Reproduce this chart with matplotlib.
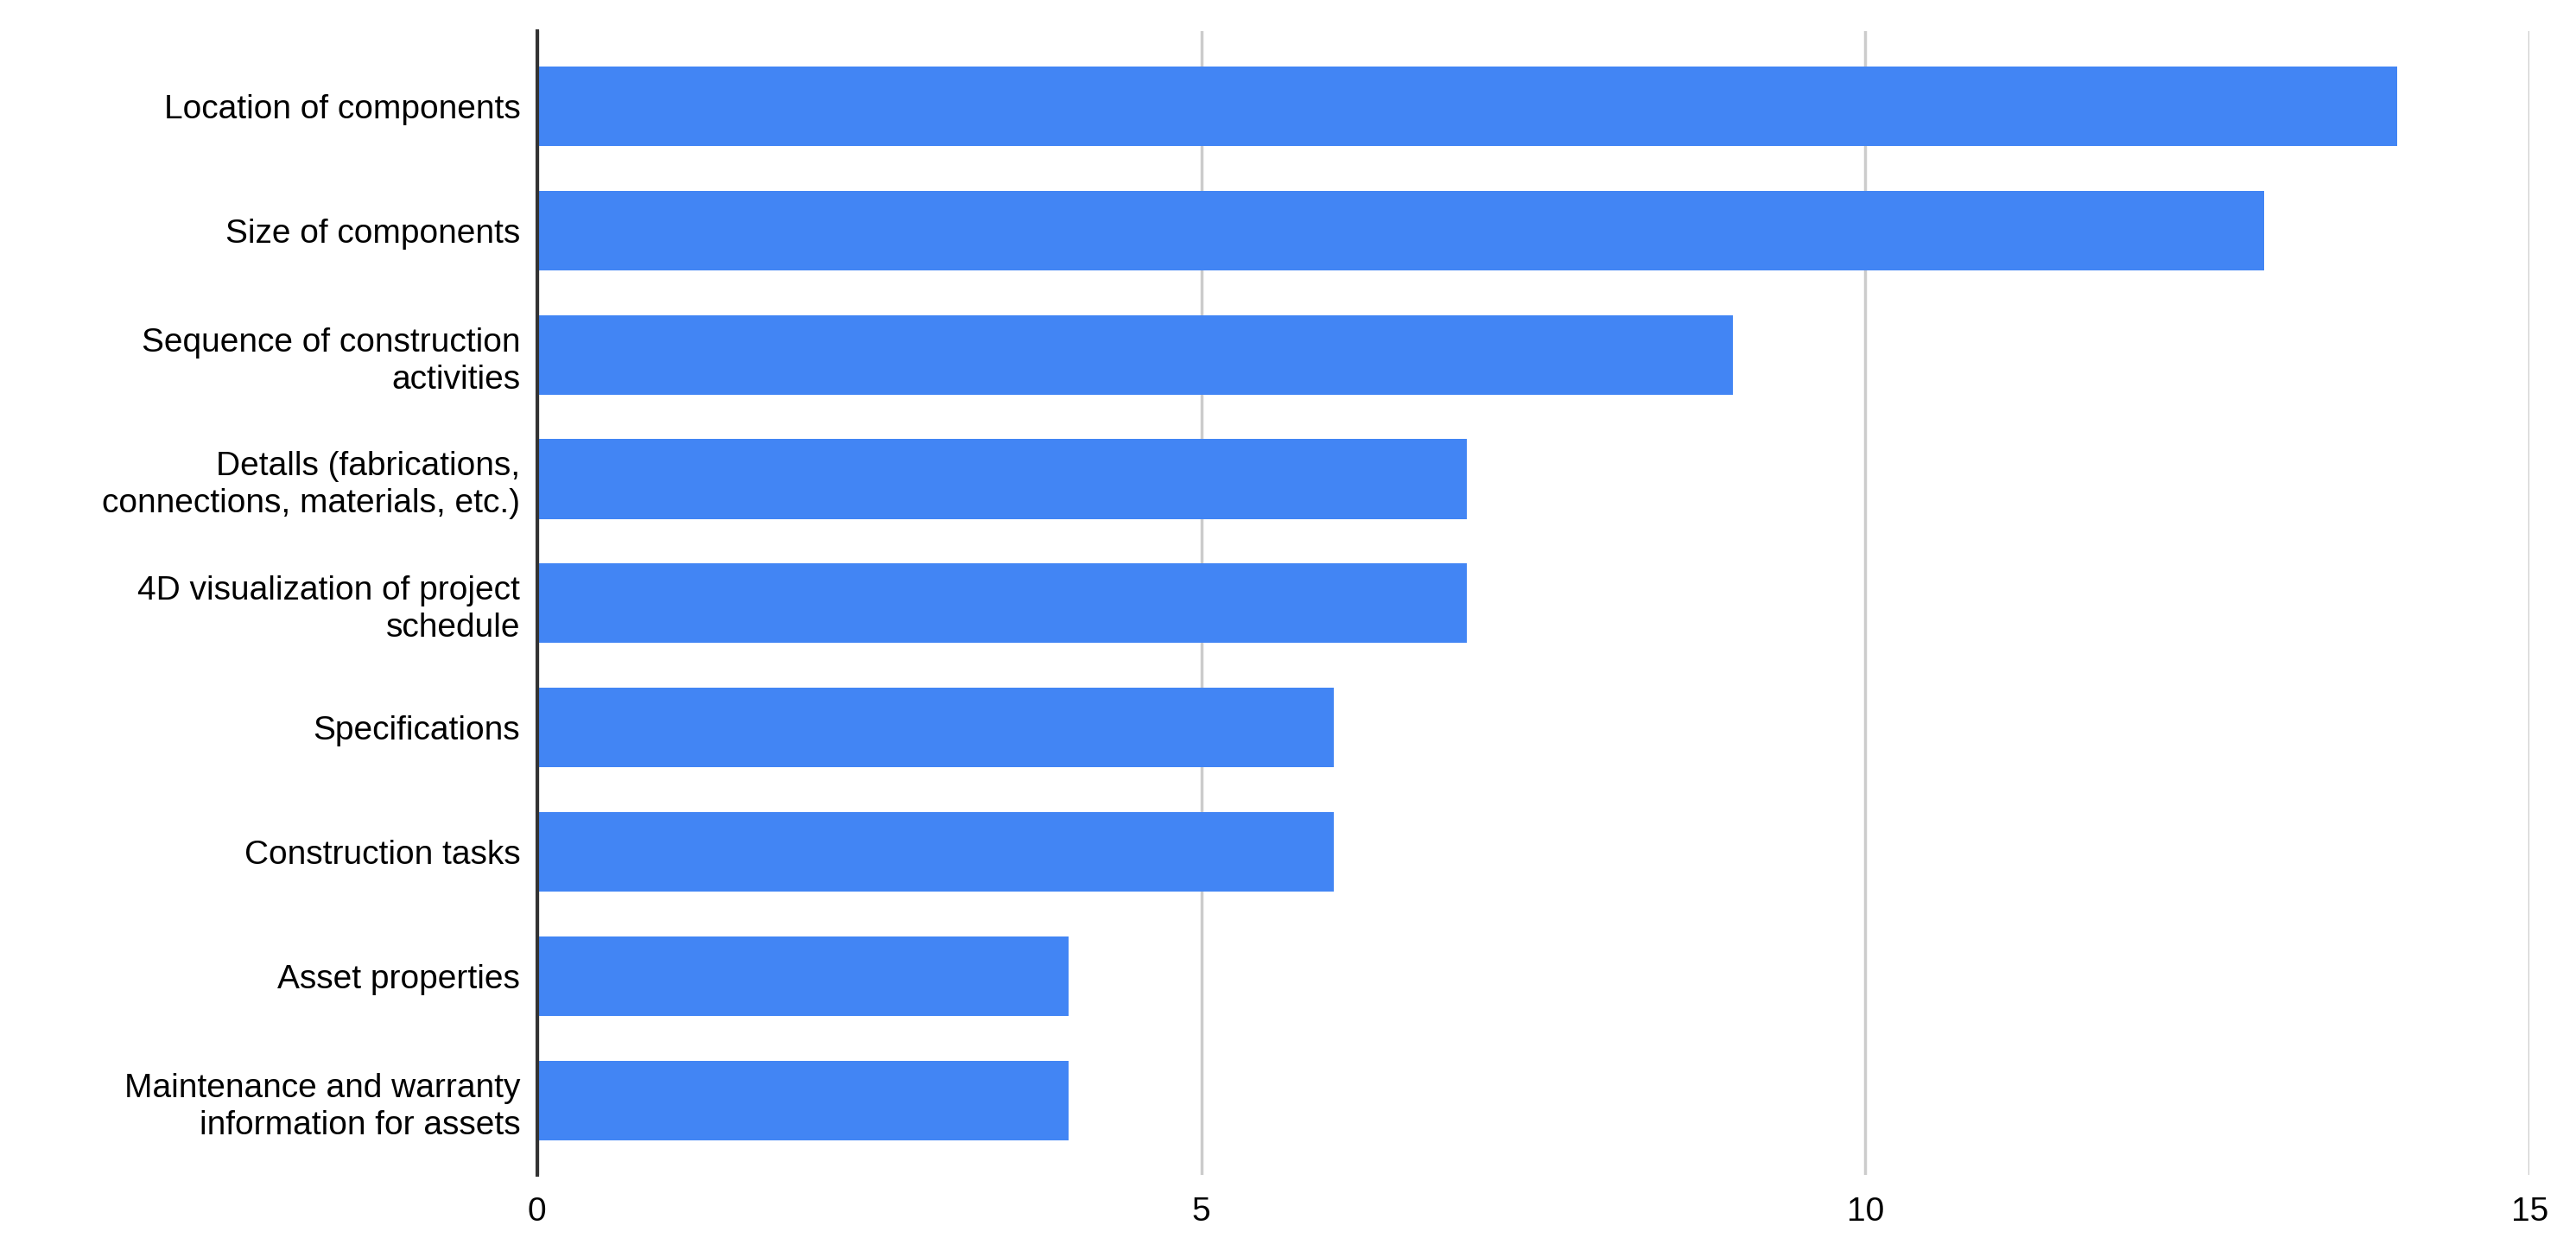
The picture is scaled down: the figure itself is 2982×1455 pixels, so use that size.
import matplotlib.pyplot as plt
import numpy as np

categories = [
    "Location of components",
    "Size of components",
    "Sequence of construction\nactivities",
    "Detalls (fabrications,\nconnections, materials, etc.)",
    "4D visualization of project\nschedule",
    "Specifications",
    "Construction tasks",
    "Asset properties",
    "Maintenance and warranty\ninformation for assets",
]
values = [14, 13, 9, 7, 7, 6, 6, 4, 4]
xticks = [0, 5, 10, 15]

plt.rcParams['font.family'] = ['Liberation Sans', 'DejaVu Sans']

fig = plt.figure(figsize=(29.82, 14.55), dpi=100)
ax = fig.add_axes([0.2085, 0.065, 0.7735, 0.91])

y = np.arange(len(categories))
ax.barh(y, values, height=0.64, color='#4285F4', zorder=3)
ax.set_ylim(len(categories) - 0.4, -0.6)
ax.set_xlim(0, 15)

ax.set_yticks(y)
ax.set_yticklabels(categories, fontsize=28, ha='right', linespacing=1.25)
ax.set_xticks(xticks)
ax.set_xticklabels([str(t) for t in xticks], fontsize=28)
ax.tick_params(length=0, pad=14)
ax.tick_params(axis='x', pad=18)

ax.grid(axis='x', color='#cccccc', linewidth=2.5, zorder=0)
for s in ['top', 'right', 'bottom']:
    ax.spines[s].set_visible(False)
ax.spines['left'].set_linewidth(3)
ax.spines['left'].set_color('#333333')
ax.spines['left'].set_zorder(4)

fig.savefig('out.png', dpi=100)
